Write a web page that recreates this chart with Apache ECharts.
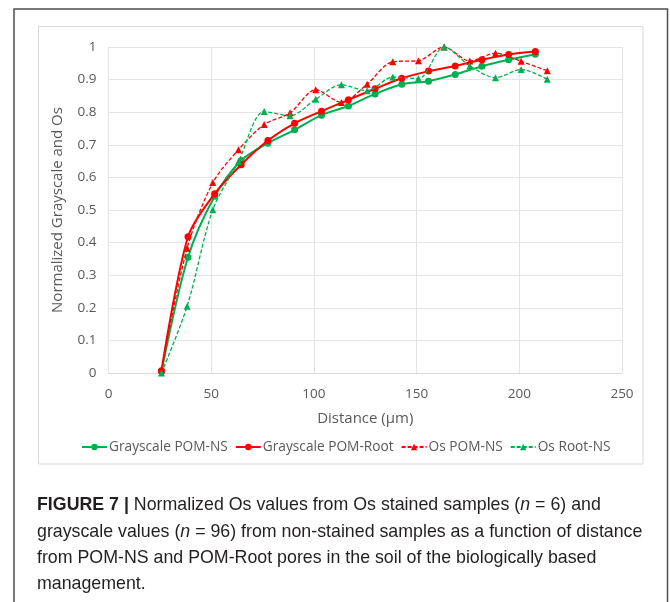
<!DOCTYPE html>
<html>
<head>
<meta charset="utf-8">
<script src="https://cdn.jsdelivr.net/npm/echarts@6/dist/echarts.min.js"></script>
<style>
html,body{margin:0;padding:0;background:#fff;}
#c{width:670px;height:602px;}
</style>
</head>
<body>
<div id="c"></div>
<script>
// Data
const gsDistance = [25.8, 38.7, 51.7, 64.6, 77.6, 90.6, 103.7, 116.8, 129.8, 142.8, 155.8, 168.8, 181.8, 194.8, 207.8];
const grayscalePOMNS = [0.005, 0.355, 0.542, 0.652, 0.705, 0.746, 0.791, 0.819, 0.856, 0.886, 0.895, 0.916, 0.941, 0.961, 0.978];
const grayscalePOMRoot = [0.007, 0.418, 0.55, 0.639, 0.713, 0.766, 0.803, 0.838, 0.872, 0.904, 0.926, 0.942, 0.961, 0.977, 0.986];
const osDistance = [25.8, 38.3, 50.8, 63.3, 75.8, 88.4, 100.9, 113.4, 125.9, 138.4, 150.9, 163.4, 175.9, 188.4, 200.9, 213.6];
const osPOMNS = [0.01, 0.383, 0.584, 0.685, 0.762, 0.798, 0.869, 0.83, 0.886, 0.955, 0.958, 1.0, 0.957, 0.981, 0.956, 0.927];
const osRootNS = [0.0, 0.205, 0.501, 0.649, 0.802, 0.789, 0.84, 0.884, 0.866, 0.908, 0.903, 1.0, 0.942, 0.906, 0.931, 0.901];
const xTicks = [0, 50, 100, 150, 200, 250];
const yTicks = [0, 0.1, 0.2, 0.3, 0.4, 0.5, 0.6, 0.7, 0.8, 0.9, 1];
const seriesNames = ['Grayscale POM-NS', 'Grayscale POM-Root', 'Os POM-NS', 'Os Root-NS'];

const GREEN = '#00B050';
const RED = '#FF0000';
const labelFont = 'Liberation Sans Narrow, Liberation Sans, Arial, sans-serif';
const axisFont = 'Open Sans, Noto Sans, sans-serif';

function pairs(xs, ys){ return xs.map((x,i)=>[x, ys[i]]); }

const chart = echarts.init(document.getElementById('c'), null, {renderer:'canvas'});

const CAP = 17.8;
const captionStyle = {fontFamily: labelFont, fontSize: CAP, fill: '#231f20'};

chart.setOption({
  animation: false,
  backgroundColor: '#fff',
  grid: {left: 108.5, right: 48, top: 47, bottom: 229, containLabel: false},
  xAxis: {
    type: 'value', min: xTicks[0], max: xTicks[xTicks.length-1], interval: 50,
    name: 'Distance (µm)', nameLocation: 'middle', nameGap: 38,
    nameTextStyle: {color: '#595959', fontSize: 15, fontFamily: axisFont},
    axisLine: {show: true, lineStyle: {color: '#d9d9d9', width: 1}},
    axisTick: {show: false},
    axisLabel: {color: '#595959', fontSize: 13.5, fontFamily: axisFont, margin: 14},
    splitLine: {show: true, lineStyle: {color: '#e4e4e4', width: 1}}
  },
  yAxis: {
    type: 'value', min: yTicks[0], max: yTicks[yTicks.length-1], interval: 0.1,
    name: 'Normalized Grayscale and Os', nameLocation: 'middle', nameGap: 43, nameRotate: 90,
    nameTextStyle: {color: '#595959', fontSize: 15, fontFamily: axisFont},
    axisLine: {show: false}, axisTick: {show: false},
    axisLabel: {color: '#595959', fontSize: 13.5, fontFamily: axisFont, margin: 12,
      formatter: v => String(Math.round(v*10)/10)},
    splitLine: {show: true, lineStyle: {color: '#e4e4e4', width: 1}}
  },
  legend: {
    data: seriesNames, bottom: 143, left: 76, itemGap: 7, itemWidth: 25, itemHeight: 8,
    textStyle: {color: '#595959', fontSize: 13.7, fontFamily: axisFont, padding: [0,0,0,-3]}
  },
  series: [
    {name: seriesNames[0], type: 'line', data: pairs(gsDistance, grayscalePOMNS), smooth: 0.3,
     symbol: 'circle', symbolSize: 7, itemStyle: {color: GREEN}, lineStyle: {color: GREEN, width: 2}, z: 3},
    {name: seriesNames[1], type: 'line', data: pairs(gsDistance, grayscalePOMRoot), smooth: 0.3,
     symbol: 'circle', symbolSize: 7, itemStyle: {color: RED}, lineStyle: {color: RED, width: 2}, z: 4},
    {name: seriesNames[2], type: 'line', data: pairs(osDistance, osPOMNS), smooth: 0.3,
     symbol: 'triangle', symbolSize: 7, itemStyle: {color: RED}, lineStyle: {color: RED, width: 1.3, type: [4,2]}, z: 5},
    {name: seriesNames[3], type: 'line', data: pairs(osDistance, osRootNS), smooth: 0.3,
     symbol: 'triangle', symbolSize: 7, itemStyle: {color: GREEN}, lineStyle: {color: GREEN, width: 1.3, type: [4,2]}, z: 5}
  ],
  graphic: [
    {type: 'polyline', shape: {points: [[14, 602], [14, 9], [667.5, 9], [667.5, 602]]},
     style: {stroke: '#4d4d4d', lineWidth: 1.5, fill: null}, silent: true},
    {type: 'rect', shape: {x: 38.5, y: 26.5, width: 604.5, height: 437.5},
     style: {stroke: '#d9d9d9', lineWidth: 1, fill: null}, silent: true},
    {type: 'text', left: 37, top: 496, style: {
      text: '{b|FIGURE 7 |} Normalized Os values from Os stained samples ({i|n} = 6) and',
      rich: {b: {fontWeight: 'bold', fontFamily: labelFont, fontSize: CAP, fill: '#231f20'},
             i: {fontStyle: 'italic', fontFamily: labelFont, fontSize: CAP, fill: '#231f20'}},
      ...captionStyle}},
    {type: 'text', left: 37, top: 523, style: {
      text: 'grayscale values ({i|n} = 96) from non-stained samples as a function of distance',
      rich: {i: {fontStyle: 'italic', fontFamily: labelFont, fontSize: CAP, fill: '#231f20'}},
      ...captionStyle}},
    {type: 'text', left: 37, top: 549, style: {
      text: 'from POM-NS and POM-Root pores in the soil of the biologically based', ...captionStyle}},
    {type: 'text', left: 37, top: 575, style: {text: 'management.', ...captionStyle}}
  ]
});
</script>
</body>
</html>
